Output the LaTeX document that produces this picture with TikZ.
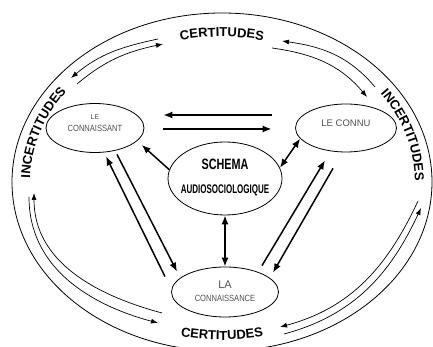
\documentclass[tikz,border=0pt]{standalone}
\usepackage{fontspec}
\setmainfont{Liberation Sans}
\newfontfamily\etroite[FakeStretch=0.84]{Liberation Sans}
\newfontfamily\serree[FakeStretch=0.72]{Liberation Sans}
\newfontfamily\tresserree[FakeStretch=0.64]{Liberation Sans}
\usepackage{xcolor}
\definecolor{pole-gris}{HTML}{505050}
\usetikzlibrary{shapes.geometric,arrows.meta,decorations.text}
\newcommand\ligne[2]{\raisebox{#1}[0pt][0pt]{\makebox[0pt]{#2}}}
\tikzset{
  pole/.style={draw, ellipse, line width=0.8pt, inner sep=0pt, text=pole-gris},
  fleche/.style={line width=1.5pt, -{Latex[length=9pt,width=7pt]}},
  doublefleche/.style={line width=1.5pt, {Latex[length=9pt,width=7pt]}-{Latex[length=9pt,width=7pt]}},
  boucle/.style={line width=0.7pt, -{Latex[length=7pt,width=5pt]}},
  courbe/.style={decorate, decoration={text along path, text align=center,
    text={|\bfseries\fontsize{13}{14}\selectfont|#1}}}
}

\begin{document}
\begin{tikzpicture}[x=1pt,y=1pt]

    % Cadre
    \useasboundingbox (0,0) rectangle (433,347);
    \clip (0,0) rectangle (433,347);

    % Ellipse exterieure
    \draw[line width=0.8pt] (222,165) ellipse [x radius=210pt, y radius=169pt];

    % Poles
    \node[pole, minimum width=98pt, minimum height=49pt] (connaissant) at (95,219)
        {\ligne{8.5pt}{\fontsize{7}{8}\selectfont LE}\ligne{-3.2pt}{\etroite\fontsize{9}{10}\selectfont CONNAISSANT}};
    \node[pole, minimum width=101pt, minimum height=48pt] (connu) at (346,219)
        {\ligne{1.8pt}{\fontsize{9.5}{11}\selectfont LE CONNU}};
    \node[pole, minimum width=114pt, minimum height=73pt, text=black] (schema) at (225,168.5)
        {\ligne{9.2pt}{\serree\bfseries\fontsize{15}{16}\selectfont SCHEMA}\ligne{-15pt}{\tresserree\bfseries\fontsize{12.5}{13}\selectfont AUDIOSOCIOLOGIQUE}};
    \node[pole, minimum width=107pt, minimum height=50pt] (connaissance) at (225,55)
        {\ligne{3.7pt}{\fontsize{11}{12}\selectfont LA}\ligne{-9.7pt}{\etroite\fontsize{9}{10}\selectfont CONNAISSANCE}};

    % Textes sur le pourtour
    \path[courbe=CERTITUDES] (222,165) ++(110:180.5pt and 145.3pt)
        arc[start angle=110, end angle=70, x radius=180.5pt, y radius=145.3pt];
    \path[courbe=CERTITUDES] (222,165) ++(250:196pt and 158pt)
        arc[start angle=250, end angle=290, x radius=196pt, y radius=158pt];
    \path[courbe=INCERTITUDES] (222,165) ++(192:192pt and 154pt)
        arc[start angle=192, end angle=132, x radius=192pt, y radius=154pt];
    \path[courbe=INCERTITUDES] (222,165) ++(47:193pt and 155pt)
        arc[start angle=47, end angle=-13, x radius=193pt, y radius=155pt];

    % Fleches entre les poles
    \draw[fleche, shorten <=23.5pt, shorten >=19pt] ([yshift=13pt]connu.west) -- ([yshift=13pt]connaissant.east);
    \draw[fleche, shorten <=19pt, shorten >=23.5pt] ([yshift=-1pt]connaissant.east) -- ([yshift=-1pt]connu.west);
    \draw[fleche, shorten >=6pt] (schema.171) -- (connaissant.-17);
    \draw[doublefleche] (schema.11) -- (connu.193);
    \draw[doublefleche] (schema.south) -- (connaissance.north);
    \draw[fleche] ([xshift=-60pt,yshift=-10pt]connaissance.north) -- ([xshift=11pt,yshift=-3.5pt]connaissant.south);
    \draw[fleche] ([xshift=22pt,yshift=-1.5pt]connaissant.south) -- ([xshift=-48pt,yshift=-5pt]connaissance.north);
    \draw[fleche] ([xshift=37pt,yshift=1pt]connaissance.north) -- ([xshift=-21pt,yshift=-8pt]connu.south);
    \draw[fleche] ([xshift=-13pt,yshift=-16pt]connu.south) -- ([xshift=48pt,yshift=-6pt]connaissance.north);

    % Boucles certitudes / incertitudes
    \coordinate (hg-ext-a) at (158,308); \coordinate (hg-ext-b) at (71,269);
    \coordinate (hg-int-a) at (77,263);  \coordinate (hg-int-b) at (163,303);
    \coordinate (hd-ext-a) at (375,260); \coordinate (hd-ext-b) at (282,306);
    \coordinate (hd-int-a) at (272,299); \coordinate (hd-int-b) at (367,250);
    \coordinate (bg-ext-a) at (29,150);  \coordinate (bg-ext-b) at (158,24);
    \coordinate (bg-int-a) at (162,34);  \coordinate (bg-int-b) at (34,154);
    \coordinate (bd-ext-a) at (284,13);  \coordinate (bd-ext-b) at (421,139);
    \coordinate (bd-int-a) at (418,146); \coordinate (bd-int-b) at (280,20);

    \draw[boucle] (hg-ext-a) to[out=192, in=40] (hg-ext-b);
    \draw[boucle] (hg-int-a) to[out=40, in=192] (hg-int-b);
    \draw[boucle] (hd-ext-a) to[out=130, in=-8] (hd-ext-b);
    \draw[boucle] (hd-int-a) to[out=-8, in=130] (hd-int-b);
    \draw[boucle] (bg-ext-a) to[out=-90, in=165] (bg-ext-b);
    \draw[boucle] (bg-int-a) to[out=165, in=-90] (bg-int-b);
    \draw[boucle] (bd-ext-a) to[out=15, in=-115] (bd-ext-b);
    \draw[boucle] (bd-int-a) to[out=-115, in=15] (bd-int-b);

\end{tikzpicture}
\end{document}
